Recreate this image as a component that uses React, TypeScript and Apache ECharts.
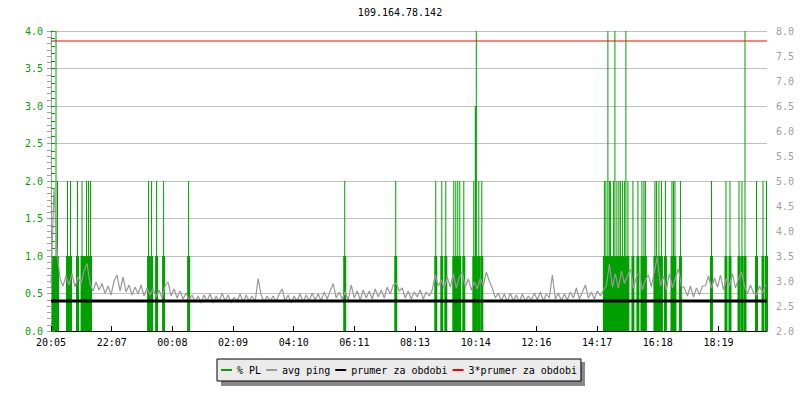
import React, { useEffect, useRef } from 'react';
import * as echarts from 'echarts';

const chartTitle = '109.164.78.142';
const timeLabels = ['20:05', '22:07', '00:08', '02:09', '04:10', '06:11', '08:13', '10:14', '12:16', '14:17', '16:18', '18:19'];
const spanMinutes = 1431;
const tickStep = 121.27;
const sampleStep = 6;
const legendNames = ['% PL', 'avg ping', 'prumer za obdobi', '3*prumer za obdobi'];

// avg ping (right axis), one sample every 6 minutes
const avgPing = [
  2.95, 4.85, 3.6, 3.05,
  2.9, 3.1, 2.92, 3.15, 2.88, 3.08, 2.95, 3.2, 3.35, 2.95,
  2.8, 2.98, 2.82,
  2.95, 2.75, 2.9, 2.72, 3.0, 3.12, 2.8, 3.08, 2.78, 2.92, 2.72, 2.88, 2.74, 2.92, 2.7, 2.86, 2.72,
  2.85, 2.68, 2.82, 2.66, 2.9, 2.98, 2.7, 2.84, 2.66, 2.8, 2.64, 2.76, 2.62,
  2.72, 2.58, 2.7, 2.56, 2.72, 2.6, 2.74, 2.56, 2.7, 2.58, 2.76, 2.6, 2.72, 2.56, 2.68, 2.6, 2.74, 2.57, 2.72, 2.6, 2.7, 2.58, 3.05, 2.72, 2.58, 2.7, 2.6,
  2.7, 2.58, 2.74, 2.84, 2.6, 2.72, 2.56, 2.7, 2.6, 2.74, 2.58, 2.72, 2.6, 2.76, 2.62, 2.74, 2.6, 2.78, 2.64, 2.8, 2.95, 2.66, 2.78,
  2.64, 2.78, 2.62, 2.92, 2.66, 2.8, 2.62, 2.82, 2.66, 2.8, 2.64, 2.84, 2.68, 2.82, 2.66, 2.88, 2.74, 2.92, 2.96, 2.8, 2.86,
  2.66, 2.8, 2.64, 2.78, 2.68, 2.82, 2.64, 2.78, 2.7,
  2.82, 3.12, 2.9, 3.02, 2.85, 3.08, 2.88, 3.14, 2.86, 3.08, 3.18, 2.88, 3.04, 2.82,
  2.98, 2.84, 3.05, 2.9, 3.18, 3.0,
  2.86, 2.66, 2.76, 2.6, 2.74, 2.58, 2.76, 2.6, 2.72, 2.58, 2.74, 2.6, 2.7, 2.62,
  2.76, 2.62, 2.78, 2.6, 2.74, 2.66, 3.12, 2.64, 2.76, 2.6, 2.74, 2.62, 2.78, 2.66, 2.86, 2.64, 2.78, 2.92, 2.66, 2.78, 2.64, 2.8, 2.7, 2.82,
  2.9, 3.34, 2.88, 3.15, 2.85, 3.2, 2.95, 3.1, 3.24, 2.86, 3.08, 3.16, 2.82, 3.02, 3.12, 2.88,
  3.2, 3.48, 2.9, 3.1, 2.82, 3.15, 2.86, 3.06, 3.25, 2.9,
  2.86, 2.7, 2.9, 2.68, 2.86, 2.72, 2.9,
  2.9, 3.1, 2.86, 3.06, 2.88, 3.12, 2.82, 3.05, 2.9, 3.15, 2.86, 3.04, 3.18,
  2.9, 2.74, 2.92, 2.76, 2.72, 2.9, 2.76, 2.92,
];

// packet loss spikes: [minute, % PL]
const plSpikes = [
  [10, 4], [13, 2], [33, 2], [39, 2], [53, 2], [62, 2], [71, 2], [75, 2], [79, 2],
  [195, 2], [201, 2], [211, 2], [225, 2], [275, 2],
  [587, 2], [689, 2],
  [769, 2], [781, 2], [789, 2], [805, 2], [809, 2], [813, 2], [817, 2], [825, 2], [845, 2], [848, 3], [849, 3], [850, 4], [855, 2], [861, 2],
  [1106, 2], [1109, 2], [1113, 4], [1116, 2], [1118, 2], [1124, 2], [1127, 4], [1131, 2], [1135, 2], [1138, 2], [1142, 2], [1146, 2], [1149, 4], [1153, 2],
  [1163, 2], [1173, 2], [1181, 2], [1185, 2], [1188, 2], [1207, 2], [1210, 2], [1215, 2], [1220, 2], [1228, 2], [1241, 2], [1244, 2], [1247, 2], [1258, 2],
  [1320, 2], [1349, 2], [1357, 2], [1375, 2], [1381, 2], [1387, 4], [1410, 2], [1423, 2], [1430, 2],
];
// minutes where % PL is at least 1 (wider base of the spikes)
const plBase = [
  5, 8, 10, 13, 33, 39, 53, 62, 66, 71, 75, 79,
  195, 201, 211, 225, 275, 587, 689,
  769, 781, 789, 805, 809, 813, 817, 825, 845, 850, 855, 861,
  1106, 1109, 1113, 1116, 1120, 1124, 1127, 1131, 1135, 1138, 1142, 1146, 1149, 1153,
  1163, 1173, 1181, 1185, 1188, 1207, 1210, 1215, 1220, 1228, 1241, 1244, 1247, 1258,
  1320, 1349, 1357, 1375, 1381, 1387, 1410, 1423, 1430,
];
const periodMean = 2.6;
const periodMean3 = 7.8;

const FONT = 'DejaVu Sans Mono';
const GREEN = '#00a000';
const GRAY = '#999999';

export default function App() {
  const ref = useRef<HTMLDivElement>(null);
  useEffect(() => {
    if (!ref.current) return;
    const chart = echarts.init(ref.current, undefined, { renderer: 'svg' });
    const xFormatter = (v: number) => {
      const idx = Math.round(v / tickStep);
      if (Math.abs(v - idx * tickStep) > 1) return '';
      return timeLabels[idx] ?? '';
    };
    chart.setOption({
      animation: false,
      backgroundColor: '#ffffff',
      title: {
        text: chartTitle,
        left: 'center',
        top: 2,
        textStyle: { fontFamily: FONT, fontSize: 10, fontWeight: 'normal', color: '#000' },
      },
      graphic: [
        { type: 'rect', z: 1, shape: { x: 221, y: 362, width: 364, height: 24 }, style: { fill: '#888888' } },
      ],
      legend: {
        data: legendNames,
        left: 217,
        top: 359,
        z: 5,
        padding: [6, 4],
        itemGap: 5,
        itemWidth: 11,
        itemHeight: 2,
        icon: 'rect',
        backgroundColor: '#ebebeb',
        borderColor: '#000',
        borderWidth: 1,
        selectedMode: false,
        textStyle: { fontFamily: FONT, fontSize: 10, color: '#000', padding: 0 },
      },
      grid: { left: 51, right: 33, top: 31, bottom: 69, containLabel: false },
      xAxis: [
        {
          type: 'value',
          min: 0,
          max: spanMinutes,
          interval: tickStep,
          axisLine: { show: true, lineStyle: { color: '#000', width: 1 } },
          axisTick: { show: true, inside: true, length: 5, lineStyle: { color: '#000' } },
          axisLabel: { color: '#000', fontFamily: FONT, fontSize: 10, margin: 6, formatter: xFormatter, showMaxLabel: false },
          splitLine: { show: false },
        },
        { type: 'value', min: 0, max: spanMinutes, show: false },
      ],
      yAxis: [
        {
          type: 'value',
          position: 'left',
          min: 0,
          max: 4,
          interval: 0.5,
          axisLine: { show: true, lineStyle: { color: GREEN } },
          axisTick: { show: true, inside: true, length: 4, lineStyle: { color: GREEN } },
          minorTick: { show: true, splitNumber: 5, length: 4, lineStyle: { color: GREEN } },
          axisLabel: { color: GREEN, fontFamily: FONT, fontSize: 10, margin: 8, formatter: (v: number) => v.toFixed(1) },
          splitLine: { show: true, lineStyle: { color: '#c0c0c0', width: 1 } },
        },
        {
          type: 'value',
          position: 'right',
          min: 2,
          max: 8,
          interval: 0.5,
          axisLine: { show: true, lineStyle: { color: '#a0a0a0' } },
          axisTick: { show: true, inside: true, length: 4, lineStyle: { color: '#a0a0a0' } },
          minorTick: { show: true, splitNumber: 4, length: 4, lineStyle: { color: '#a0a0a0' } },
          axisLabel: { color: '#a0a0a0', fontFamily: FONT, fontSize: 10, margin: 9, formatter: (v: number) => v.toFixed(1) },
          splitLine: { show: false },
        },
      ],
      series: [
        {
          name: '% PL',
          type: 'bar',
          xAxisIndex: 1,
          yAxisIndex: 0,
          barWidth: 3,
          color: GREEN,
          itemStyle: { color: GREEN },
          data: plBase.map((m) => [m, 1]),
        },
        {
          name: '% PL',
          type: 'bar',
          xAxisIndex: 0,
          yAxisIndex: 0,
          barWidth: 1,
          color: GREEN,
          itemStyle: { color: GREEN },
          data: plSpikes.map(([m, v]) => [m, v]),
        },
        {
          name: 'avg ping',
          type: 'line',
          xAxisIndex: 0,
          yAxisIndex: 1,
          color: GRAY,
          showSymbol: false,
          symbol: 'none',
          lineStyle: { color: GRAY, width: 1.2 },
          data: avgPing.map((v, i) => [i * sampleStep, v]),
        },
        {
          name: 'prumer za obdobi',
          type: 'line',
          xAxisIndex: 0,
          yAxisIndex: 1,
          color: '#000',
          showSymbol: false,
          symbol: 'none',
          lineStyle: { color: '#000', width: 3 },
          data: [[0, periodMean], [spanMinutes, periodMean]],
        },
        {
          name: '3*prumer za obdobi',
          type: 'line',
          xAxisIndex: 0,
          yAxisIndex: 1,
          color: '#ff0000',
          showSymbol: false,
          symbol: 'none',
          lineStyle: { color: '#ff0000', width: 1 },
          data: [[0, periodMean3], [spanMinutes, periodMean3]],
        },
      ],
    });
    return () => chart.dispose();
  }, []);
  return <div ref={ref} style={{ position: 'fixed', left: 0, top: 0, width: 800, height: 400 }} />;
}
